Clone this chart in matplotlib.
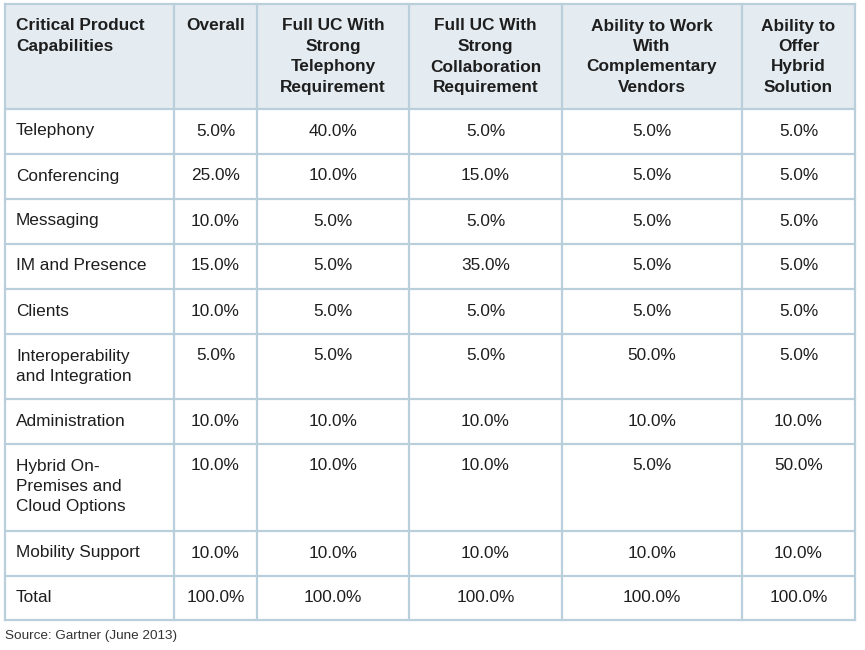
import matplotlib.pyplot as plt
from matplotlib.patches import Rectangle

# table content
headers = ["Critical Product\nCapabilities", "Overall",
           "Full UC With\nStrong\nTelephony\nRequirement",
           "Full UC With\nStrong\nCollaboration\nRequirement",
           "Ability to Work\nWith\nComplementary\nVendors",
           "Ability to\nOffer\nHybrid\nSolution"]
capabilities = ["Telephony", "Conferencing", "Messaging", "IM and Presence", "Clients",
                "Interoperability\nand Integration", "Administration",
                "Hybrid On-\nPremises and\nCloud Options", "Mobility Support", "Total"]
overall = ["5.0%", "25.0%", "10.0%", "15.0%", "10.0%", "5.0%", "10.0%", "10.0%", "10.0%", "100.0%"]
telephony_req = ["40.0%", "10.0%", "5.0%", "5.0%", "5.0%", "5.0%", "10.0%", "10.0%", "10.0%", "100.0%"]
collab_req = ["5.0%", "15.0%", "5.0%", "35.0%", "5.0%", "5.0%", "10.0%", "10.0%", "10.0%", "100.0%"]
complementary = ["5.0%", "5.0%", "5.0%", "5.0%", "5.0%", "50.0%", "10.0%", "5.0%", "10.0%", "100.0%"]
hybrid = ["5.0%", "5.0%", "5.0%", "5.0%", "5.0%", "5.0%", "10.0%", "50.0%", "10.0%", "100.0%"]
source = "Source: Gartner (June 2013)"

# layout in pixels
col_edges = [5, 174, 257, 409, 562, 742, 855]
row_edges = [4, 109, 154, 199, 244, 289, 334, 399, 444, 531, 576, 620]
line_h = 20.5
border = "#b9cfdc"
header_bg = "#e5ecf1"

plt.rcParams['font.family'] = ['Liberation Sans', 'DejaVu Sans']

fig = plt.figure(figsize=(8.65, 6.5), dpi=100)
ax = fig.add_axes([0, 0, 1, 1])
ax.set_xlim(0, 865)
ax.set_ylim(650, 0)
ax.axis('off')

# header background
ax.add_patch(Rectangle((col_edges[0], row_edges[0]), col_edges[-1] - col_edges[0],
                       row_edges[1] - row_edges[0], facecolor=header_bg, edgecolor='none'))

# grid lines
for x in col_edges:
    ax.plot([x, x], [row_edges[0], row_edges[-1]], color=border, lw=1.6, solid_capstyle='projecting')
for y in row_edges:
    ax.plot([col_edges[0], col_edges[-1]], [y, y], color=border, lw=1.6, solid_capstyle='projecting')

def put(text, col, row, bold=False):
    top = row_edges[row] + 22
    for i, line in enumerate(text.split("\n")):
        if col == 0:
            x, ha = col_edges[0] + 11, 'left'
        else:
            x, ha = (col_edges[col] + col_edges[col + 1]) / 2, 'center'
        ax.text(x, top + i * line_h, line, ha=ha, va='center', fontsize=12.4,
                fontweight='bold' if bold else 'normal', color='#1e1e1e')

for c, h in enumerate(headers):
    put(h, c, 0, bold=True)

columns = [capabilities, overall, telephony_req, collab_req, complementary, hybrid]
for c, vals in enumerate(columns):
    for r, v in enumerate(vals):
        put(v, c, r + 1)

ax.text(5, 636, source, ha='left', va='center', fontsize=9.7, color='#333333')

fig.savefig("out.png", dpi=100)
